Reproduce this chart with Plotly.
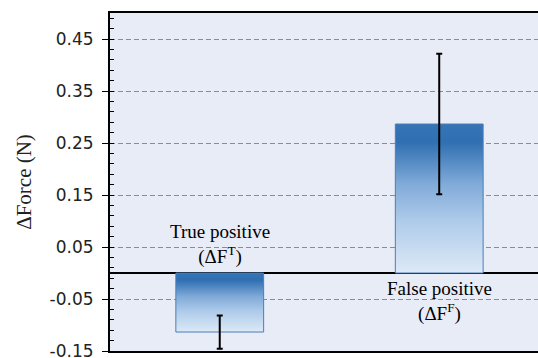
import plotly.graph_objects as go

# Mean force change per outcome, with standard deviation
categories = ["True positive<br>(ΔF<sup>T</sup>)", "False positive<br>(ΔF<sup>F</sup>)"]
mean_force = [-0.1135, 0.2865]
std_force = [0.032, 0.135]
tick_values = [-0.15, -0.05, 0.05, 0.15, 0.25, 0.35, 0.45]
tick_labels = ["-0.15", "-0.05", "0.05", "0.15", "0.25", "0.35", "0.45"]

positions = list(range(len(categories)))
bar_width = 0.40
serif = "Liberation Serif, Times New Roman, serif"

# light at the base of each bar, deep blue at its upper edge
gradient = [
    [0.0, "#dde9f6"],
    [0.35, "#aecbea"],
    [0.60, "#80aad8"],
    [0.88, "#2f6fb2"],
    [1.0, "#3674b5"],
]

fig = go.Figure()

for pos, val in zip(positions, mean_force):
    x0, x1 = pos - bar_width / 2, pos + bar_width / 2
    fig.add_trace(go.Scatter(
        x=[x0, x1, x1, x0, x0],
        y=[0, 0, val, val, 0],
        mode="lines",
        fill="toself",
        fillgradient=dict(type="vertical", colorscale=gradient),
        line=dict(color="#4a7fb6", width=1),
        hoverinfo="skip",
        showlegend=False,
    ))

# error bars on top of the filled bars
fig.add_trace(go.Scatter(
    x=positions,
    y=mean_force,
    mode="markers",
    marker=dict(size=1, color="rgba(0,0,0,0)"),
    error_y=dict(type="data", array=std_force, color="black", thickness=2, width=3),
    hoverinfo="skip",
    showlegend=False,
))

# category labels next to the zero line
for pos, val, label in zip(positions, mean_force, categories):
    above = val < 0
    fig.add_annotation(
        x=pos, y=0, xref="x", yref="y",
        text=label,
        showarrow=False,
        yanchor="bottom" if above else "top",
        yshift=3 if above else -3,
        font=dict(family=serif, size=19, color="black"),
        align="center",
    )

fig.update_layout(
    width=538,
    height=358,
    margin=dict(l=110, r=0, t=13, b=7, autoexpand=False),
    paper_bgcolor="white",
    plot_bgcolor="#e8ecf6",
    showlegend=False,
    xaxis=dict(
        range=[-0.5, 1.45],
        showticklabels=False,
        ticks="",
        showgrid=False,
        zeroline=False,
        showline=True,
        linecolor="black",
        linewidth=1.5,
        mirror=True,
        automargin=False,
    ),
    yaxis=dict(
        range=[-0.15, 0.5],
        automargin=False,
        tickvals=tick_values,
        ticktext=tick_labels,
        ticks="outside",
        ticklen=6,
        tickwidth=1,
        tickcolor="black",
        ticklabelstandoff=5,
        ticklabeloverflow="allow",
        tickfont=dict(family="DejaVu Sans", size=17, color="#222222"),
        minor=dict(ticks="inside", ticklen=4, tickcolor="black", dtick=0.02, tick0=0.01, showgrid=False),
        showgrid=True,
        gridcolor="#8c8c8c",
        gridwidth=1,
        griddash="5px,3px",
        zeroline=True,
        zerolinecolor="black",
        zerolinewidth=1.5,
        showline=True,
        linecolor="black",
        linewidth=2,
        title=dict(text="ΔForce (N)", font=dict(family=serif, size=21, color="#222222"), standoff=12),
    ),
)

fig.write_html("out.html")
